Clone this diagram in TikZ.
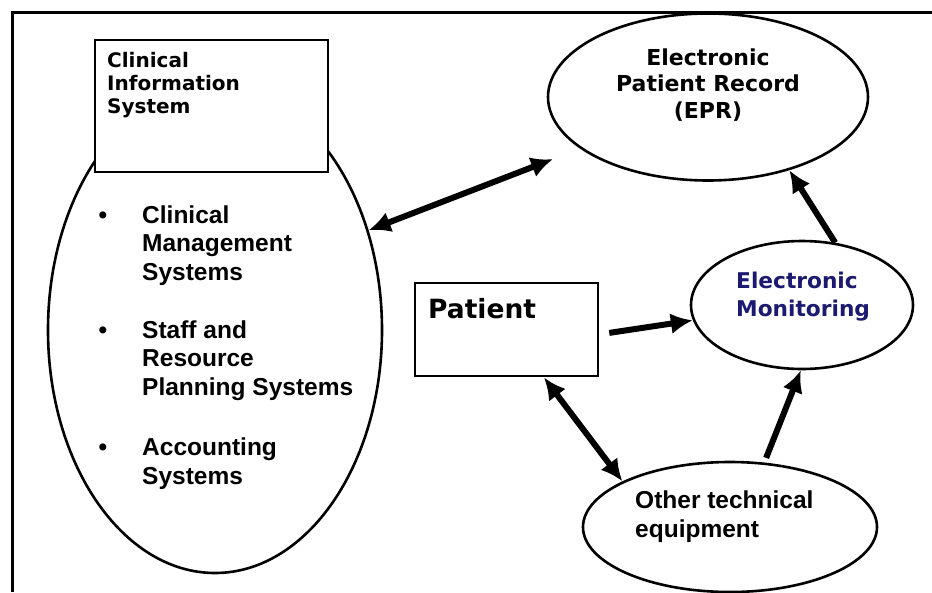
\documentclass[tikz,border=0pt]{standalone}
\usepackage{fontspec}
\setmainfont{Liberation Sans}
\newfontfamily\verdana{DejaVu Sans}
\usetikzlibrary{
  shapes.geometric, % for ellipse
  arrows.meta} % for Latex arrows
\definecolor{monblue}{RGB}{26,26,112}
\tikzstyle{blob} = [draw, ellipse, line width=2.6pt, inner sep=0pt]
\tikzstyle{box} = [draw, rectangle, line width=2.8pt, fill=white, inner sep=0pt]
\tikzstyle{vtext} = [inner sep=0pt, font=\verdana\bfseries\fontsize{22}{26.5}\selectfont]
\tikzstyle{atext} = [inner sep=0pt, align=left, font=\bfseries\fontsize{24.5}{28.5}\selectfont]
\tikzstyle{arr} = [->, line width=6pt]
\tikzstyle{dbl} = [<->, line width=6pt]

\begin{document}
\begin{tikzpicture}[x=1pt, y=-1pt, >={Latex[length=22pt,width=21pt]}]
\useasboundingbox (0,0) rectangle (932,592);

% frame
\draw[line width=3pt] (932,12) -- (12,12) -- (12,592);

% clinical information system
\node[blob, minimum width=334pt, minimum height=486pt] (cisell) at (215,330) {};
\node[box, minimum width=233pt, minimum height=132pt] (cis) at (211.5,106) {};
\node[vtext, align=left, anchor=base west, font=\verdana\bfseries\fontsize{20}{23}\selectfont] (cistext) at (107,113) {Clinical\\Information\\System};

\node[atext, anchor=base] (dot1) at (103,223) {\textbullet};
\node[atext, anchor=base west] (mgmt) at (142,280) {Clinical\\Management\\Systems};
\node[atext, anchor=base] (dot2) at (103,338) {\textbullet};
\node[atext, anchor=base west] (staff) at (142,395) {Staff and\\Resource\\Planning Systems};
\node[atext, anchor=base] (dot3) at (103,455) {\textbullet};
\node[atext, anchor=base west] (acct) at (142,484) {Accounting\\Systems};

% record, monitoring, patient, equipment
\node[blob, minimum width=320pt, minimum height=167pt] (epr) at (708,97) {};
\node[vtext, align=center, anchor=base] (eprtext) at (708,118) {Electronic\\Patient Record\\(EPR)};

\node[blob, minimum width=222pt, minimum height=128pt] (mon) at (802,305) {};
\node[vtext, align=left, anchor=base west, text=monblue, font=\verdana\bfseries\fontsize{21.7}{28}\selectfont] (montext) at (736,316) {Electronic\\Monitoring};

\node[box, minimum width=183pt, minimum height=93pt] (patient) at (506.5,329.5) {};
\node[vtext, anchor=base west, font=\verdana\bfseries\fontsize{26.5}{30}\selectfont] (pattext) at (428,318) {Patient};

\node[blob, minimum width=294pt, minimum height=130pt] (other) at (730,527) {};
\node[atext, anchor=base west] (othertext) at (635,537) {Other technical\\equipment};

% arrows
\draw[dbl, shorten >=29pt] (cisell.33) -- (epr.202);
\draw[arr, shorten <=10pt] (patient.-3) -- (mon.188);
\draw[arr] (mon.62) -- (epr.-42);
\draw[dbl] (patient.-52) -- (other.157);
\draw[arr, shorten <=5pt] (other.62) -- (mon.-91);

\end{tikzpicture}
\end{document}
